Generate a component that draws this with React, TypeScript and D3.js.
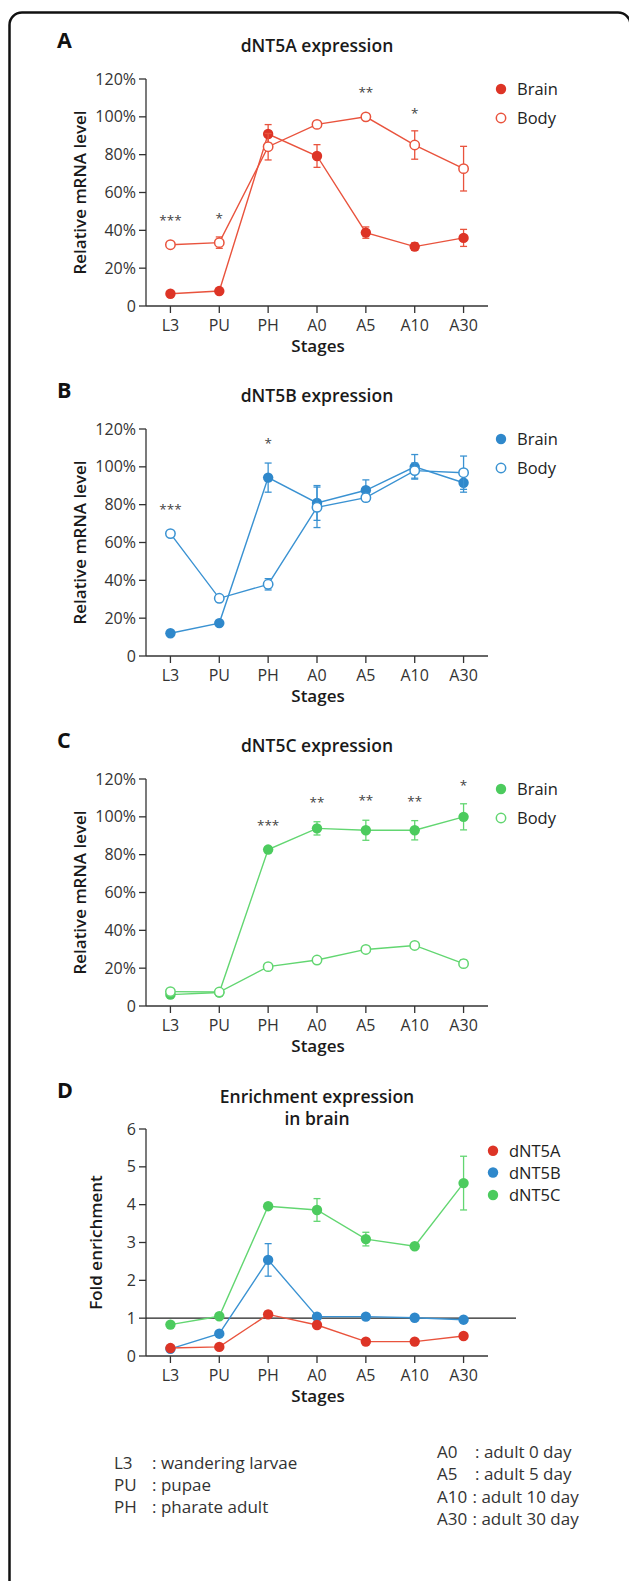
import React from "react";
import * as d3 from "d3";

// ---------- data ----------
const stages = ["L3", "PU", "PH", "A0", "A5", "A10", "A30"];

// Panel A – dNT5A (relative mRNA, %)
const brainA = [6.5, 7.9, 90.9, 79.3, 38.8, 31.4, 36.0];
const brainAErr = [1.0, 1.0, 5.0, 6.0, 3.0, 2.0, 4.5];
const bodyA = [32.4, 33.5, 84.2, 96.0, 100.0, 85.1, 72.6];
const bodyAErr = [1.0, 3.0, 7.0, 1.0, 0.5, 7.5, 11.8];
const starsA = [
  { stage: "L3", level: 46.7, text: "***" },
  { stage: "PU", level: 47.6, text: "*" },
  { stage: "A5", level: 114.2, text: "**" },
  { stage: "A10", level: 103.6, text: "*" },
];

// Panel B – dNT5B
const brainB = [12.0, 17.4, 94.3, 80.9, 87.6, 100.0, 91.6];
const brainBErr = [1.0, 1.0, 7.7, 9.2, 5.5, 6.5, 5.0];
const bodyB = [64.7, 30.5, 37.9, 78.6, 83.7, 98.0, 96.9];
const bodyBErr = [1.0, 1.5, 3.0, 10.7, 2.0, 4.0, 8.8];
const starsB = [
  { stage: "L3", level: 78.9, text: "***" },
  { stage: "PH", level: 113.8, text: "*" },
];

// Panel C – dNT5C
const brainC = [6.0, 7.1, 82.7, 93.9, 92.9, 92.9, 100.0];
const brainCErr = [1.0, 1.0, 1.5, 3.5, 5.3, 5.1, 6.9];
const bodyC = [7.6, 7.4, 20.8, 24.3, 29.9, 32.0, 22.4];
const bodyCErr = [1.0, 1.0, 1.0, 1.0, 1.0, 1.5, 2.0];
const starsC = [
  { stage: "PH", level: 96.8, text: "***" },
  { stage: "A0", level: 109.4, text: "**" },
  { stage: "A5", level: 110.0, text: "**" },
  { stage: "A10", level: 109.6, text: "**" },
  { stage: "A30", level: 118.2, text: "*" },
];

// Panel D – fold enrichment in brain
const foldA = [0.21, 0.24, 1.1, 0.82, 0.38, 0.38, 0.53];
const foldAErr = [0.02, 0.03, 0.08, 0.05, 0.04, 0.04, 0.06];
const foldB = [0.19, 0.59, 2.54, 1.04, 1.04, 1.01, 0.96];
const foldBErr = [0.02, 0.05, 0.43, 0.04, 0.04, 0.03, 0.05];
const foldC = [0.83, 1.05, 3.96, 3.86, 3.09, 2.9, 4.57];
const foldCErr = [0.03, 0.04, 0.06, 0.3, 0.18, 0.06, 0.71];

const pctTicks = [0, 20, 40, 60, 80, 100, 120];
const foldTicks = [0, 1, 2, 3, 4, 5, 6];

const footLeft = [
  ["L3", ": wandering larvae"],
  ["PU", ": pupae"],
  ["PH", ": pharate adult"],
];
const footRight = [
  ["A0", ": adult 0 day"],
  ["A5", ": adult 5 day"],
  ["A10", ": adult 10 day"],
  ["A30", ": adult 30 day"],
];

// ---------- style ----------
const RED = "#dd3426";
const RED_LINE = "#e9533d";
const BLUE = "#2f88cb";
const BLUE_LINE = "#3a92d2";
const GREEN = "#4ccb5e";
const GREEN_LINE = "#62d671";
const FONT = "'Open Sans', 'Noto Sans', sans-serif";
const AXIS = "#333";

type Series = {
  name: string;
  values: number[];
  errs: number[];
  color: string;
  lineColor: string;
  filled: boolean;
};

type PanelProps = {
  dy: number;
  label: string;
  title: string[];
  series: Series[];
  yMax: number;
  ticks: number[];
  fmt: (v: number) => string;
  yLabel: string;
  yLabelX: number;
  stars: { stage: string; level: number; text: string }[];
  legendX: number;
  legendTextX: number;
  legendY: number[];
  refLine?: number;
};

const x = d3.scalePoint<string>().domain(stages).range([146, 488]).padding(0.5);

function Panel(p: PanelProps) {
  const y = d3.scaleLinear().domain([0, p.yMax]).range([306, 79]);
  const line = d3
    .line<number>()
    .x((_, i) => x(stages[i]) as number)
    .y((v) => y(v));
  const titleBase = p.title.length > 1 ? 53 : 52;
  return (
    <g transform={`translate(0,${p.dy})`}>
      <text x={57} y={48} fontSize={21.5} fontWeight={700} fill="#111" fontFamily={FONT}>
        {p.label}
      </text>
      {p.title.map((t, i) => (
        <text
          key={i}
          x={317}
          y={titleBase + i * 22}
          textAnchor="middle"
          fontSize={17.5}
          fontWeight={600}
          fill="#1a1a1a"
          fontFamily={FONT}
        >
          {t}
        </text>
      ))}
      {/* y axis */}
      <line x1={146} x2={146} y1={y(p.yMax)} y2={y(0)} stroke={AXIS} strokeWidth={1.3} />
      {p.ticks.map((t) => (
        <g key={t}>
          <line x1={139} x2={146} y1={y(t)} y2={y(t)} stroke={AXIS} strokeWidth={1.3} />
          <text
            x={136}
            y={y(t) + 5.5}
            textAnchor="end"
            fontSize={16}
            fill="#333"
            fontFamily={FONT}
          >
            {p.fmt(t)}
          </text>
        </g>
      ))}
      {/* x axis */}
      <line x1={146} x2={488} y1={306} y2={306} stroke={AXIS} strokeWidth={1.3} />
      {stages.map((s) => (
        <g key={s}>
          <line x1={x(s)} x2={x(s)} y1={306} y2={313} stroke={AXIS} strokeWidth={1.3} />
          <text x={x(s)} y={331} textAnchor="middle" fontSize={16} fill="#333" fontFamily={FONT}>
            {s}
          </text>
        </g>
      ))}
      <text x={318} y={351.5} textAnchor="middle" fontSize={17} fontWeight={600} fill="#1a1a1a" fontFamily={FONT}>
        Stages
      </text>
      <text
        transform={`translate(${p.yLabelX},${(y(0) + y(p.yMax)) / 2}) rotate(-90)`}
        textAnchor="middle"
        fontSize={17}
        fontWeight={600}
        fill="#1a1a1a"
        fontFamily={FONT}
      >
        {p.yLabel}
      </text>
      {p.refLine !== undefined && (
        <line x1={146} x2={516} y1={y(p.refLine)} y2={y(p.refLine)} stroke="#222" strokeWidth={1.4} />
      )}
      {/* series */}
      {p.series.map((s) => (
        <g key={s.name}>
          <path d={line(s.values) || ""} fill="none" stroke={s.lineColor} strokeWidth={1.4} />
          {s.values.map((v, i) => {
            const cx = x(stages[i]) as number;
            const e = s.errs[i];
            return (
              <g key={i} stroke={s.lineColor} strokeWidth={1.3}>
                <line x1={cx} x2={cx} y1={y(v + e)} y2={y(v - e)} />
                <line x1={cx - 3.5} x2={cx + 3.5} y1={y(v + e)} y2={y(v + e)} />
                <line x1={cx - 3.5} x2={cx + 3.5} y1={y(v - e)} y2={y(v - e)} />
              </g>
            );
          })}
          {s.values.map((v, i) => (
            <circle
              key={"c" + i}
              cx={x(stages[i]) as number}
              cy={y(v)}
              r={s.filled ? 5.2 : 4.7}
              fill={s.filled ? s.color : "#fff"}
              stroke={s.color}
              strokeWidth={s.filled ? 0 : 1.5}
            />
          ))}
        </g>
      ))}
      {/* significance */}
      {p.stars.map((st, i) => (
        <text
          key={i}
          x={x(st.stage)}
          y={y(st.level) + 7.5}
          textAnchor="middle"
          fontSize={13.5}
          fill="#444"
          fontFamily={FONT}
        >
          {st.text}
        </text>
      ))}
      {/* legend */}
      {p.series.map((s, i) => (
        <g key={"lg" + s.name}>
          <circle
            cx={p.legendX}
            cy={p.legendY[i]}
            r={s.filled ? 5.2 : 4.7}
            fill={s.filled ? s.color : "#fff"}
            stroke={s.color}
            strokeWidth={s.filled ? 0 : 1.5}
          />
          <text x={p.legendTextX} y={p.legendY[i] + 6} fontSize={16.5} fill="#222" fontFamily={FONT}>
            {s.name}
          </text>
        </g>
      ))}
    </g>
  );
}

const pctFmt = (v: number) => (v === 0 ? "0" : `${v}%`);
const foldFmt = (v: number) => `${v}`;

export default function App() {
  return (
    <div style={{ position: "absolute", left: 0, top: 0, width: 629, height: 1581, overflow: "hidden", background: "#fff" }}>
      <svg width={629} height={1581} style={{ display: "block" }}>
        <rect x={0} y={0} width={629} height={1581} fill="#fff" />
        <path
          d="M 9.5 1590 L 9.5 25 A 12.5 12.5 0 0 1 22 12.5 L 618 12.5 A 12.5 12.5 0 0 1 630.5 25 L 630.5 1590"
          fill="none"
          stroke="#111"
          strokeWidth={2.5}
        />
        <Panel
          dy={0}
          label="A"
          title={["dNT5A expression"]}
          series={[
            { name: "Brain", values: brainA, errs: brainAErr, color: RED, lineColor: RED_LINE, filled: true },
            { name: "Body", values: bodyA, errs: bodyAErr, color: RED_LINE, lineColor: RED_LINE, filled: false },
          ]}
          yMax={120}
          ticks={pctTicks}
          fmt={pctFmt}
          yLabel="Relative mRNA level"
          yLabelX={86}
          stars={starsA}
          legendX={501}
          legendTextX={517}
          legendY={[89, 118]}
        />
        <Panel
          dy={350}
          label="B"
          title={["dNT5B expression"]}
          series={[
            { name: "Brain", values: brainB, errs: brainBErr, color: BLUE, lineColor: BLUE_LINE, filled: true },
            { name: "Body", values: bodyB, errs: bodyBErr, color: BLUE_LINE, lineColor: BLUE_LINE, filled: false },
          ]}
          yMax={120}
          ticks={pctTicks}
          fmt={pctFmt}
          yLabel="Relative mRNA level"
          yLabelX={86}
          stars={starsB}
          legendX={501}
          legendTextX={517}
          legendY={[89, 118]}
        />
        <Panel
          dy={700}
          label="C"
          title={["dNT5C expression"]}
          series={[
            { name: "Brain", values: brainC, errs: brainCErr, color: GREEN, lineColor: GREEN_LINE, filled: true },
            { name: "Body", values: bodyC, errs: bodyCErr, color: GREEN_LINE, lineColor: GREEN_LINE, filled: false },
          ]}
          yMax={120}
          ticks={pctTicks}
          fmt={pctFmt}
          yLabel="Relative mRNA level"
          yLabelX={86}
          stars={starsC}
          legendX={501}
          legendTextX={517}
          legendY={[89, 118]}
        />
        <Panel
          dy={1050}
          label="D"
          title={["Enrichment expression", "in brain"]}
          series={[
            { name: "dNT5A", values: foldA, errs: foldAErr, color: RED, lineColor: RED_LINE, filled: true },
            { name: "dNT5B", values: foldB, errs: foldBErr, color: BLUE, lineColor: BLUE_LINE, filled: true },
            { name: "dNT5C", values: foldC, errs: foldCErr, color: GREEN, lineColor: GREEN_LINE, filled: true },
          ].reverse() as Series[]}
          yMax={6}
          ticks={foldTicks}
          fmt={foldFmt}
          yLabel="Fold enrichment"
          yLabelX={102}
          stars={[]}
          legendX={493}
          legendTextX={509}
          legendY={[145, 122.5, 100.7]}
          refLine={1}
        />
        {/* footnote */}
        {footLeft.map((r, i) => (
          <g key={r[0]} fontFamily={FONT} fontSize={17} fill="#333">
            <text x={114} y={1469 + i * 22.2}>{r[0]}</text>
            <text x={152} y={1469 + i * 22.2}>{r[1]}</text>
          </g>
        ))}
        {footRight.map((r, i) => (
          <g key={r[0]} fontFamily={FONT} fontSize={17} fill="#333">
            <text x={437} y={1458 + i * 22.3}>{r[0]}</text>
            <text x={r[0].length > 2 ? 472.5 : 475} y={1458 + i * 22.3}>{r[1]}</text>
          </g>
        ))}
      </svg>
    </div>
  );
}
